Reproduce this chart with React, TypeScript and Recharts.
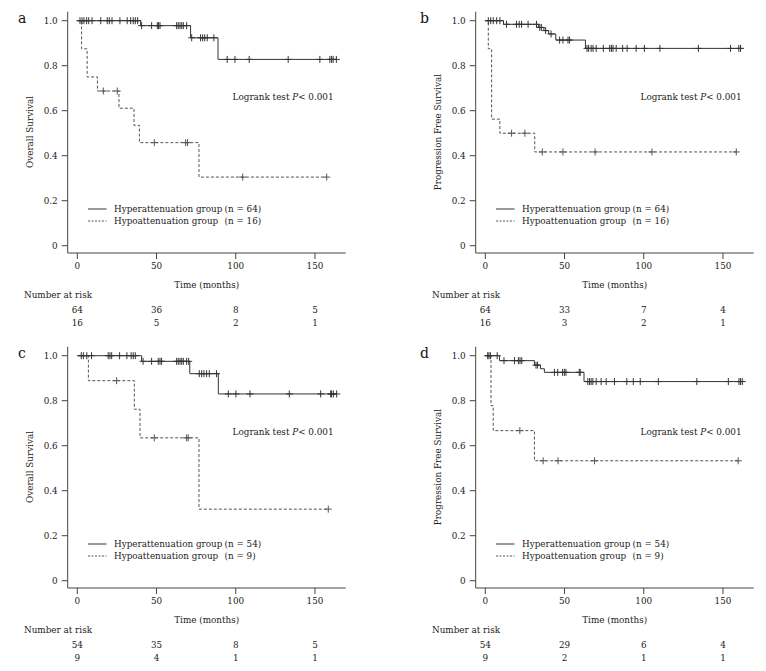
import React from 'react';
import { ComposedChart, Line, Scatter, XAxis, YAxis } from 'recharts';

const FONT = '"DejaVu Serif", serif';
const FS = 8.8;
const INK = '#222';
const AXIS = '#444';

const timeTicks = [0, 50, 100, 150];
const survTicks = [0, 0.2, 0.4, 0.6, 0.8, 1.0];
const survTickLabels = ['0', '0.2', '0.4', '0.6', '0.8', '1.0'];

const hyperName = 'Hyperattenuation group';
const hypoName = 'Hypoattenuation group';

// a: overall survival, whole cohort
const aHyperTimes = [0, 40, 71.5, 88.8];
const aHyperSurv = [1, 0.978, 0.924, 0.828];
const aHyperCensor = [1.7, 3, 4.2, 5.9, 7.2, 9.3, 14.8, 18.9, 20.2, 21.9, 26.9, 31.5, 33.7, 35.3, 36.6, 38.1, 40.6, 46.9, 50.5, 51.3, 52.2, 62.7, 63.7, 64.8, 65.9, 66.9, 69, 72.2, 77.8, 79.1, 80.4, 82, 86.2, 94.6, 99.5, 108.5, 133.1, 153.1, 159.4, 160.5, 161.5, 163.5];
const aHypoTimes = [0, 2.7, 6.2, 12.7, 26.3, 35.8, 39.2, 76.8];
const aHypoSurv = [1, 0.875, 0.75, 0.6875, 0.611, 0.535, 0.458, 0.305];
const aHypoCensor = [16.4, 25.2, 48.6, 68.4, 69.6, 104.4, 157.4];
const aRiskHyper = [64, 36, 8, 5];
const aRiskHypo = [16, 5, 2, 1];

// b: progression free survival, whole cohort
const bHyperTimes = [0, 11.5, 33.5, 37, 40, 44.5, 63.2];
const bHyperSurv = [1, 0.984, 0.97, 0.956, 0.941, 0.914, 0.877];
const bHyperCensor = [1.9, 3.4, 5, 7.2, 9.2, 13.4, 19.7, 21.4, 22.9, 27, 32.3, 34.4, 35.4, 38.1, 41.5, 46.9, 49, 52.2, 53.2, 64.2, 65.2, 66.8, 68, 70, 74.5, 78.5, 79.6, 80.6, 82.6, 86.7, 89.5, 95.2, 100.4, 110.2, 134.5, 154.8, 160, 161.1];
const bHypoTimes = [0, 1.9, 4, 9.2, 31.2];
const bHypoSurv = [1, 0.875, 0.5625, 0.5, 0.4167];
const bHypoCensor = [16.6, 25, 36, 49, 69.3, 105.2, 158.4];
const bRiskHyper = [64, 33, 7, 4];
const bRiskHypo = [16, 3, 2, 1];

// c: overall survival, subgroup
const cHyperTimes = [0, 40.6, 71, 89];
const cHyperSurv = [1, 0.975, 0.92, 0.83];
const cHyperCensor = [2.5, 3.8, 6, 9, 19.5, 20.6, 21.7, 26.7, 31.3, 34, 35.3, 36.6, 41.5, 46.9, 51.1, 52.2, 53.2, 62.7, 63.7, 64.8, 65.9, 66.9, 69, 70.3, 77, 78.5, 79.9, 81.6, 83.3, 87.9, 95.3, 100.1, 109, 133.8, 153.6, 159.9, 160.5, 161.6, 163.7];
const cHypoTimes = [0, 7, 36, 39.6, 76.8];
const cHypoSurv = [1, 0.889, 0.762, 0.635, 0.318];
const cHypoCensor = [24.8, 48.6, 69, 70, 158.4];
const cRiskHyper = [54, 35, 8, 5];
const cRiskHypo = [9, 4, 1, 1];

// d: progression free survival, subgroup
const dHyperTimes = [0, 9, 31, 34.8, 37.3, 62.3];
const dHyperSurv = [1, 0.978, 0.958, 0.942, 0.926, 0.885];
const dHyperCensor = [1.5, 2.3, 3.2, 7.5, 11.8, 18.4, 20.9, 21.9, 23, 32, 33, 43.6, 45.7, 48.8, 49.9, 50.9, 59.3, 59.9, 64.7, 65.8, 66.8, 67.9, 70, 73.1, 76.3, 81.5, 89.3, 93.4, 97.8, 109.2, 133.5, 153.4, 160.1, 161.1, 162.2];
const dHypoTimes = [0, 3.6, 5, 31];
const dHypoSurv = [1, 0.778, 0.667, 0.533];
const dHypoCensor = [21.8, 36.5, 45.9, 68.9, 159.6];
const dRiskHyper = [54, 29, 6, 4];
const dRiskHypo = [9, 2, 1, 1];

type Pt = { t: number; s: number };

function survAt(times: number[], surv: number[], t: number): number {
  let s = surv[0];
  for (let i = 0; i < times.length; i++) if (times[i] <= t) s = surv[i];
  return s;
}

function stepRows(times: number[], surv: number[], censor: number[]): Pt[] {
  const rows = times.map((t, i) => ({ t, s: surv[i] }));
  const end = Math.max(times[times.length - 1], censor[censor.length - 1]);
  rows.push({ t: end, s: surv[surv.length - 1] });
  return rows;
}

function censorRows(times: number[], surv: number[], censor: number[]): Pt[] {
  return censor.map((t) => ({ t, s: survAt(times, surv, t) }));
}

const CensorMark = (color: string) => (props: any) => {
  const { cx, cy } = props;
  if (cx == null || cy == null) return null;
  return (
    <path
      d={`M${cx},${cy - 3.5}V${cy + 3.5}M${cx - 3.5},${cy}H${cx + 3.5}`}
      stroke={color}
      strokeWidth={1}
      fill="none"
    />
  );
};

type Group = { times: number[]; surv: number[]; censor: number[]; n: number; risk: number[] };

type PanelProps = {
  letter: string;
  letterX: number;
  yTitle: string;
  hyper: Group;
  hypo: Group;
};

const textStyle = { fontFamily: FONT, fontSize: FS, fill: INK };
const X_DOMAIN: [number, number] = [-6.06, 169.4];

function Panel({ letter, letterX, yTitle, hyper, hypo }: PanelProps) {
  const hyperLine = stepRows(hyper.times, hyper.surv, hyper.censor);
  const hypoLine = stepRows(hypo.times, hypo.surv, hypo.censor);
  const hyperMarks = censorRows(hyper.times, hyper.surv, hyper.censor);
  const hypoMarks = censorRows(hypo.times, hypo.surv, hypo.censor);
  const solid = '#333';
  const dashed = '#555';

  return (
    <ComposedChart
      width={358}
      height={334}
      margin={{ top: 11.7, right: 12.3, bottom: 17, left: 27.7 }}
    >
      {/* time axis, then the two number-at-risk rows stacked underneath */}
      <XAxis
        xAxisId="x0"
        type="number"
        dataKey="t"
        domain={X_DOMAIN}
        allowDataOverflow
        ticks={timeTicks}
        interval={0}
        height={38}
        tickSize={6}
        tickMargin={4}
        stroke={AXIS}
        tick={{ ...textStyle }}
        label={{ value: 'Time (months)', position: 'insideBottom', offset: 3, style: { ...textStyle } }}
      />
      <XAxis
        xAxisId="x1"
        type="number"
        dataKey="t"
        domain={X_DOMAIN}
        allowDataOverflow
        ticks={timeTicks}
        interval={0}
        height={13}
        tickSize={0}
        tickMargin={15.3}
        axisLine={false}
        tickLine={false}
        tick={{ ...textStyle }}
        tickFormatter={(v: number) => String(hyper.risk[timeTicks.indexOf(v)])}
      />
      <XAxis
        xAxisId="x2"
        type="number"
        dataKey="t"
        domain={X_DOMAIN}
        allowDataOverflow
        ticks={timeTicks}
        interval={0}
        height={13}
        tickSize={0}
        tickMargin={15.3}
        axisLine={false}
        tickLine={false}
        tick={{ ...textStyle }}
        tickFormatter={(v: number) => String(hypo.risk[timeTicks.indexOf(v)])}
      />
      <YAxis
        yAxisId="s"
        type="number"
        dataKey="s"
        domain={[-0.0324, 1.04]}
        allowDataOverflow
        ticks={survTicks}
        interval={0}
        width={40}
        tickSize={6}
        tickMargin={4}
        stroke={AXIS}
        tick={{ ...textStyle }}
        tickFormatter={(v: number) => survTickLabels[survTicks.indexOf(v)] ?? String(v)}
      />
      <Line
        xAxisId="x0"
        yAxisId="s"
        data={hyperLine}
        dataKey="s"
        type="stepAfter"
        stroke={solid}
        strokeWidth={1}
        dot={false}
        activeDot={false}
        isAnimationActive={false}
      />
      <Line
        xAxisId="x0"
        yAxisId="s"
        data={hypoLine}
        dataKey="s"
        type="stepAfter"
        stroke={dashed}
        strokeWidth={1}
        strokeDasharray="3 2"
        dot={false}
        activeDot={false}
        isAnimationActive={false}
      />
      <Scatter
        xAxisId="x0"
        yAxisId="s"
        data={hyperMarks}
        dataKey="s"
        shape={CensorMark(solid)}
        isAnimationActive={false}
      />
      <Scatter
        xAxisId="x0"
        yAxisId="s"
        data={hypoMarks}
        dataKey="s"
        shape={CensorMark(dashed)}
        isAnimationActive={false}
      />

      <text x={letterX} y={23} style={{ fontFamily: FONT, fontSize: 14, fill: '#111' }}>{letter}</text>
      <text
        transform="translate(30,132) rotate(-90)"
        textAnchor="middle"
        dominantBaseline="central"
        style={textStyle}
      >
        {yTitle}
      </text>
      <text x={333.5} y={96.5} textAnchor="end" dominantBaseline="central" style={textStyle}>
        <tspan>Logrank test </tspan>
        <tspan fontStyle="italic">P</tspan>
        <tspan>{'< 0.001'}</tspan>
      </text>

      <line x1={88} x2={106.5} y1={209} y2={209} stroke={solid} strokeWidth={1} />
      <line x1={88} x2={106.5} y1={221} y2={221} stroke={dashed} strokeWidth={1} strokeDasharray="2 1.5" />
      <text y={209} dominantBaseline="central" style={textStyle}>
        <tspan x={114}>{hyperName}</tspan>
        <tspan x={224.5}>{`(n = ${hyper.n})`}</tspan>
      </text>
      <text y={221} dominantBaseline="central" style={textStyle}>
        <tspan x={114}>{hypoName}</tspan>
        <tspan x={224.5}>{`(n = ${hypo.n})`}</tspan>
      </text>

      <text x={24} y={295} dominantBaseline="central" style={textStyle}>Number at risk</text>
    </ComposedChart>
  );
}

const panels: (PanelProps & { left: number; top: number })[] = [
  {
    left: 0, top: 0, letter: 'a', letterX: 18, yTitle: 'Overall Survival',
    hyper: { times: aHyperTimes, surv: aHyperSurv, censor: aHyperCensor, n: 64, risk: aRiskHyper },
    hypo: { times: aHypoTimes, surv: aHypoSurv, censor: aHypoCensor, n: 16, risk: aRiskHypo },
  },
  {
    left: 408, top: 0, letter: 'b', letterX: 12, yTitle: 'Progression Free Survival',
    hyper: { times: bHyperTimes, surv: bHyperSurv, censor: bHyperCensor, n: 64, risk: bRiskHyper },
    hypo: { times: bHypoTimes, surv: bHypoSurv, censor: bHypoCensor, n: 16, risk: bRiskHypo },
  },
  {
    left: 0, top: 334.5, letter: 'c', letterX: 18, yTitle: 'Overall Survival',
    hyper: { times: cHyperTimes, surv: cHyperSurv, censor: cHyperCensor, n: 54, risk: cRiskHyper },
    hypo: { times: cHypoTimes, surv: cHypoSurv, censor: cHypoCensor, n: 9, risk: cRiskHypo },
  },
  {
    left: 408, top: 334.5, letter: 'd', letterX: 12, yTitle: 'Progression Free Survival',
    hyper: { times: dHyperTimes, surv: dHyperSurv, censor: dHyperCensor, n: 54, risk: dRiskHyper },
    hypo: { times: dHypoTimes, surv: dHypoSurv, censor: dHypoCensor, n: 9, risk: dRiskHypo },
  },
];

export default function App() {
  return (
    <div style={{ position: 'absolute', left: 0, top: 0, width: 766, height: 671, background: '#fff' }}>
      {panels.map((p) => (
        <div key={p.letter} style={{ position: 'absolute', left: p.left, top: p.top }}>
          <Panel {...p} />
        </div>
      ))}
    </div>
  );
}
